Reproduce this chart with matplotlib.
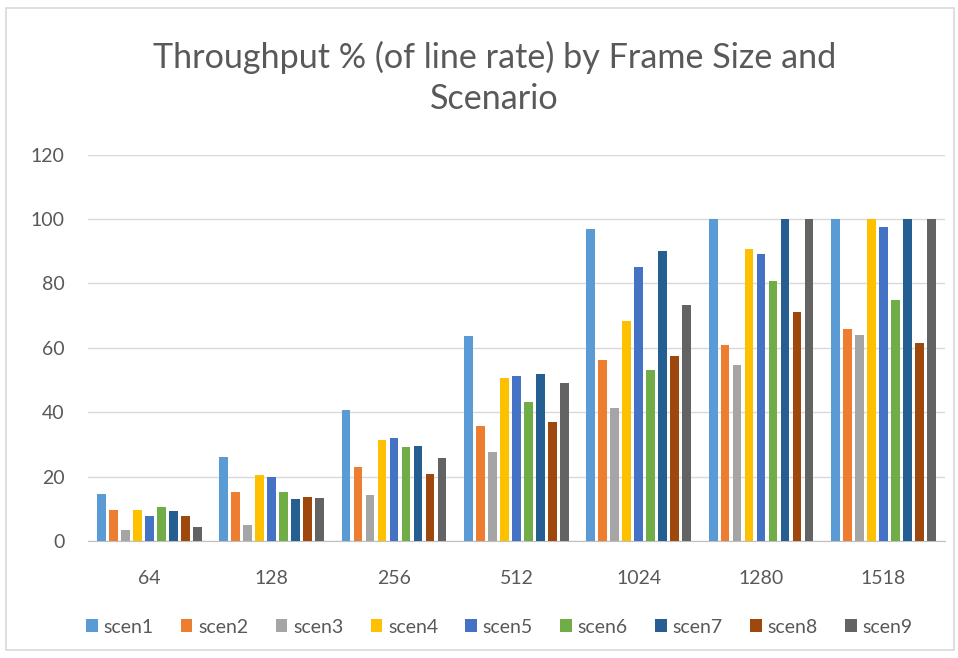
import numpy as np
import matplotlib.pyplot as plt
from matplotlib.patches import Rectangle

frame_sizes = ['64', '128', '256', '512', '1024', '1280', '1518']
scenarios = ['scen1', 'scen2', 'scen3', 'scen4', 'scen5', 'scen6', 'scen7', 'scen8', 'scen9']

scen1 = [14.7, 26.0, 40.8, 63.5, 97.0, 100, 100]
scen2 = [9.7, 15.2, 22.9, 35.6, 56.3, 61.0, 65.8]
scen3 = [3.3, 4.9, 14.4, 27.5, 41.4, 54.6, 63.9]
scen4 = [9.7, 20.4, 31.3, 50.6, 68.2, 90.6, 100]
scen5 = [7.8, 20.0, 32.0, 51.1, 85.0, 89.0, 97.4]
scen6 = [10.5, 15.2, 29.2, 43.2, 53.0, 80.6, 74.7]
scen7 = [9.3, 13.0, 29.6, 52.0, 90.2, 100, 100]
scen8 = [7.8, 13.7, 20.9, 36.9, 57.4, 71.0, 61.5]
scen9 = [4.2, 13.4, 25.7, 49.0, 73.4, 100, 100]
series = [scen1, scen2, scen3, scen4, scen5, scen6, scen7, scen8, scen9]

colors = ['#5B9BD5', '#ED7D31', '#A5A5A5', '#FFC000', '#4472C4',
          '#70AD47', '#255E91', '#9E480E', '#636363']

plt.rcParams['font.family'] = ['Lato', 'DejaVu Sans']
txt = '#595959'

fig = plt.figure(figsize=(9.58, 6.58), dpi=100)
fig.patches.append(Rectangle((6 / 958, 8 / 658), 948 / 958, 642 / 658,
                             transform=fig.transFigure, fill=False,
                             edgecolor='#D9D9D9', linewidth=1.2))
ax = fig.add_axes([0.092, 0.178, 0.894, 0.587])

x = np.arange(len(frame_sizes))
step = 0.098
width = 0.072
for i, (name, vals) in enumerate(zip(scenarios, series)):
    ax.bar(x + (i - 4) * step, vals, width, color=colors[i], label=name, zorder=3)

ax.set_ylim(0, 120)
ax.set_xlim(-0.5, len(frame_sizes) - 0.5)
ax.set_yticks(range(0, 121, 20))
ax.set_xticks(x)
ax.set_xticklabels(frame_sizes)
ax.grid(axis='y', color='#D9D9D9', linewidth=1, zorder=0)
for s in ['top', 'right', 'left']:
    ax.spines[s].set_visible(False)
ax.spines['bottom'].set_color('#BFBFBF')
ax.tick_params(axis='both', length=0, labelsize=14, colors=txt)
ax.tick_params(axis='x', pad=21)
ax.tick_params(axis='y', pad=17)

fig.text(0.516, 0.882, 'Throughput % (of line rate) by Frame Size and\nScenario',
         ha='center', va='center', fontsize=24.6, color=txt, linespacing=1.35)

ax.legend(loc='center', bbox_to_anchor=(0.48, -0.223), ncol=9, frameon=False,
          fontsize=14, handlelength=0.6, handleheight=0.6, handletextpad=0.3,
          columnspacing=1.4, labelcolor=txt)

fig.savefig('out.png', dpi=100)
